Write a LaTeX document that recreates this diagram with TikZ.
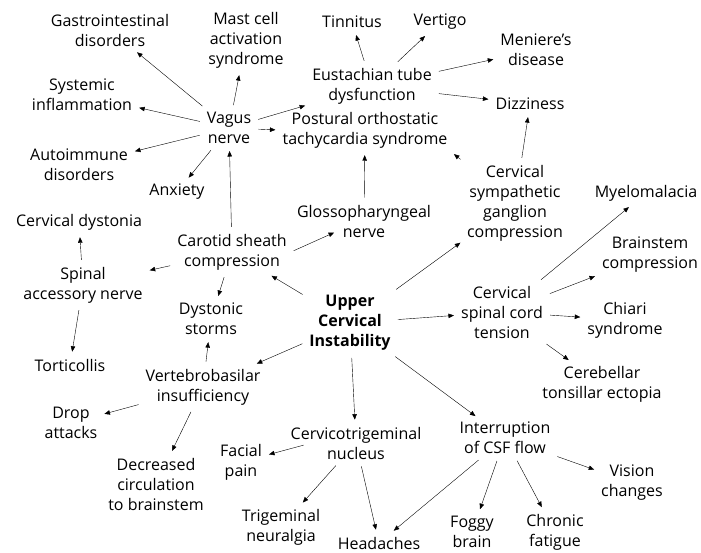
\documentclass[tikz,border=0pt]{standalone}
\usepackage{fontspec}
\setmainfont{Open Sans}
\usetikzlibrary{arrows.meta}

\begin{document}
\begin{tikzpicture}[x=1pt,y=-1pt,
    txt/.style={align=center,inner sep=4pt,font=\fontsize{16}{20}\selectfont},
    arr/.style={-{Triangle[length=5.5pt,width=4.5pt]},thin,shorten <=3pt,shorten >=3pt}]
      \useasboundingbox (0,0) rectangle (701,552);
      % centre
      \node[txt,font=\fontsize{16}{20}\selectfont\bfseries] (uci) at (350,323) {Upper\\Cervical\\Instability};
      % vagus nerve and its effects
      \node[txt] (vagus) at (229,128) {Vagus\\nerve};
      \node[txt] (gastro) at (110,30) {Gastrointestinal\\disorders};
      \node[txt] (mast) at (246,40) {Mast cell\\activation\\syndrome};
      \node[txt] (syst) at (82,95) {Systemic\\inflammation};
      \node[txt] (auto) at (79,165) {Autoimmune\\disorders};
      \node[txt] (anx) at (177,192) {Anxiety};
      \node[txt] (eust) at (372,86) {Eustachian tube\\dysfunction};
      \node[txt] (tinn) at (352,22) {Tinnitus};
      \node[txt] (vert) at (440,22) {Vertigo};
      \node[txt] (men) at (536,50) {Meniere's\\disease};
      \node[txt] (dizz) at (530,104) {Dizziness};
      \node[txt] (pots) at (365,130) {Postural orthostatic\\tachycardia syndrome};
      \node[txt] (symp) at (515,203) {Cervical\\sympathetic\\ganglion\\compression};
      \node[txt] (gloss) at (364,221) {Glossopharyngeal\\nerve};
      % carotid sheath
      \node[txt] (carot) at (232,252) {Carotid sheath\\compression};
      \node[txt] (spacc) at (83,285) {Spinal\\accessory nerve};
      \node[txt] (dyst) at (79,222) {Cervical dystonia};
      \node[txt] (tort) at (70,365) {Torticollis};
      \node[txt] (storm) at (211,319) {Dystonic\\storms};
      % vertebrobasilar
      \node[txt] (vbi) at (203,387) {Vertebrobasilar\\insufficiency};
      \node[txt] (drop) at (71,423) {Drop\\attacks};
      \node[txt] (decr) at (156,484) {Decreased\\circulation\\to brainstem};
      % cervicotrigeminal
      \node[txt] (ctn) at (356,443) {Cervicotrigeminal\\nucleus};
      \node[txt] (facial) at (241,462) {Facial\\pain};
      \node[txt] (trig) at (281,527) {Trigeminal\\neuralgia};
      \node[txt] (head) at (379,543) {Headaches};
      % CSF flow
      \node[txt] (csf) at (505,438) {Interruption\\of CSF flow};
      \node[txt] (vis) at (632,483) {Vision\\changes};
      \node[txt] (fog) at (472,532) {Foggy\\brain};
      \node[txt] (fat) at (555,532) {Chronic\\fatigue};
      % spinal cord
      \node[txt] (cord) at (502,312) {Cervical\\spinal cord\\tension};
      \node[txt] (myel) at (646,193) {Myelomalacia};
      \node[txt] (brain) at (650,255) {Brainstem\\compression};
      \node[txt] (chiari) at (625,320) {Chiari\\syndrome};
      \node[txt] (cereb) at (602,384) {Cerebellar\\tonsillar ectopia};

      \foreach \t in {gastro,mast,syst,auto,anx,eust}
        \draw[arr] (vagus) -- (\t);
      \draw[arr] (vagus) -- (pots.west);
      \foreach \t in {tinn,vert,men,dizz}
        \draw[arr] (eust) -- (\t);
      \draw[arr] (symp) -- (dizz);
      \draw[arr] (symp) -- (pots.south east);
      \draw[arr] (gloss) -- (pots);
      \foreach \t in {vagus,spacc,storm}
        \draw[arr] (carot) -- (\t);
      \draw[arr] (carot.east) -- ([shift={(44,-10)}]gloss.south west);
      \draw[arr] (spacc) -- (dyst);
      \draw[arr] (spacc) -- (tort);
      \foreach \t in {carot,symp,cord,vbi,ctn,csf}
        \draw[arr] (uci) -- (\t);
      \foreach \t in {myel,brain,chiari,cereb}
        \draw[arr] (cord) -- (\t);
      \foreach \t in {storm,drop,decr}
        \draw[arr] (vbi) -- (\t);
      \draw[arr] ([shift={(20,-19)}]ctn.south west) -- (facial);
      \foreach \t in {trig,head}
        \draw[arr] (ctn) -- (\t);
      \foreach \t in {head,fog,fat,vis}
        \draw[arr] (csf) -- (\t);
    \end{tikzpicture}
\end{document}
